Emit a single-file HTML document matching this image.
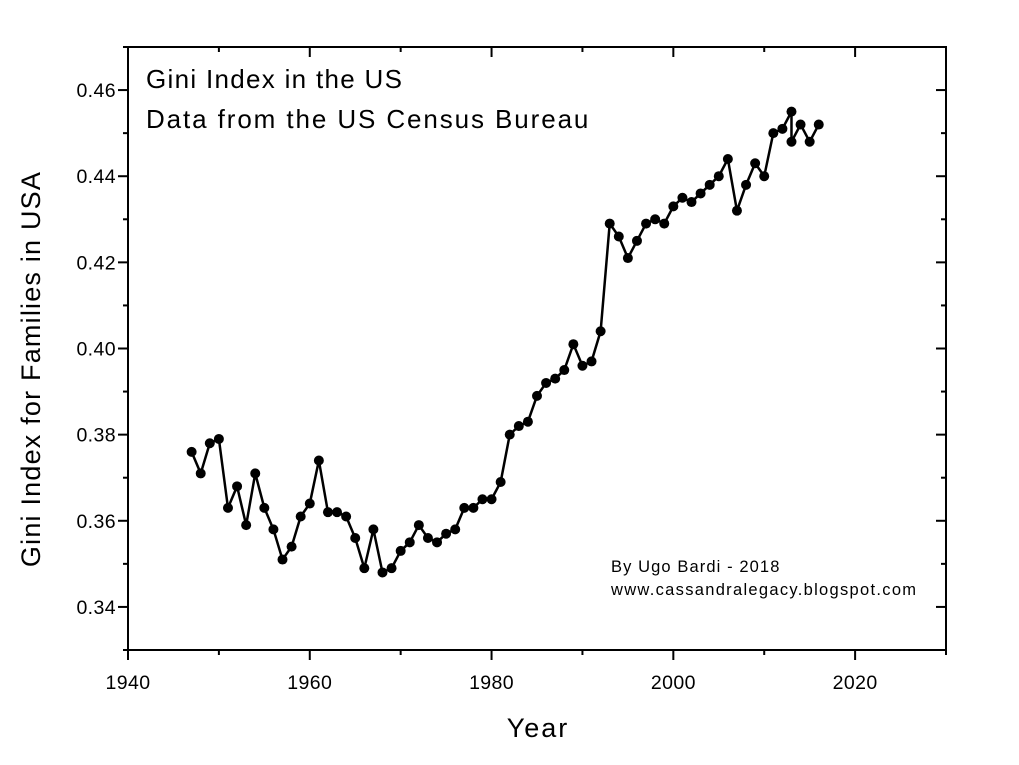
<!DOCTYPE html>
<html><head><meta charset="utf-8"><style>
body{margin:0;background:#fff;}
svg{display:block;font-family:"Liberation Sans",Arial,sans-serif;}
</style></head><body>
<svg id="chart" width="1019" height="765" viewBox="0 0 1019 765">
<rect width="1019" height="765" fill="#fff"/>
<g id="marks"></g>
<g id="axes"></g>
<text x="146" y="88" font-size="26" letter-spacing="1.3">Gini Index in the US</text>
<text x="146" y="128" font-size="26" letter-spacing="1.9">Data from the US Census Bureau</text>
<text x="611" y="572" font-size="16.5" letter-spacing="1.1">By Ugo Bardi - 2018</text>
<text x="611" y="595" font-size="16.5" letter-spacing="1.3">www.cassandralegacy.blogspot.com</text>
<text x="538" y="737" font-size="27" letter-spacing="2" text-anchor="middle">Year</text>
<text transform="translate(40,369) rotate(-90)" font-size="27" letter-spacing="1.2" text-anchor="middle">Gini Index for Families in USA</text>
</svg>
<script>
const years=[1947,1948,1949,1950,1951,1952,1953,1954,1955,1956,1957,1958,1959,1960,1961,1962,1963,1964,1965,1966,1967,1968,1969,1970,1971,1972,1973,1974,1975,1976,1977,1978,1979,1980,1981,1982,1983,1984,1985,1986,1987,1988,1989,1990,1991,1992,1993,1994,1995,1996,1997,1998,1999,2000,2001,2002,2003,2004,2005,2006,2007,2008,2009,2010,2011,2012,2013,2013,2014,2015,2016];
const gini=[0.376,0.371,0.378,0.379,0.363,0.368,0.359,0.371,0.363,0.358,0.351,0.354,0.361,0.364,0.374,0.362,0.362,0.361,0.356,0.349,0.358,0.348,0.349,0.353,0.355,0.359,0.356,0.355,0.357,0.358,0.363,0.363,0.365,0.365,0.369,0.380,0.382,0.383,0.389,0.392,0.393,0.395,0.401,0.396,0.397,0.404,0.429,0.426,0.421,0.425,0.429,0.430,0.429,0.433,0.435,0.434,0.436,0.438,0.440,0.444,0.432,0.438,0.443,0.440,0.450,0.451,0.455,0.448,0.452,0.448,0.452];
const xTicks=[1940,1960,1980,2000,2020];
const yTicks=[0.34,0.36,0.38,0.40,0.42,0.44,0.46];
const X0=128,X1=946,Y0=650,Y1=47;
const xs=v=>X0+(v-1940)/(2030-1940)*(X1-X0);
const ys=v=>Y0-(v-0.33)/(0.47-0.33)*(Y0-Y1);
const NS="http://www.w3.org/2000/svg";
function mk(t,a,p){const e=document.createElementNS(NS,t);for(const k in a)e.setAttribute(k,a[k]);p.appendChild(e);return e;}
const marks=document.getElementById('marks'),axes=document.getElementById('axes');
const line=mk('polyline',{points:years.map((y,i)=>xs(y)+','+ys(gini[i])).join(' '),fill:'none',stroke:'#000','stroke-width':2.5},marks);


years.forEach((y,i)=>{const c=mk('circle',{cx:xs(y),cy:ys(gini[i]),r:5,fill:'#000'},marks);

});
const box=mk('rect',{x:X0,y:Y1,width:X1-X0,height:Y0-Y1,fill:'none',stroke:'#000','stroke-width':2},axes);


for(let v=1940;v<=2030;v+=10){const x=xs(v),L=v%20==0?10:5;
mk('line',{x1:x,x2:x,y1:Y0,y2:Y0+L,stroke:'#000','stroke-width':2},axes);
mk('line',{x1:x,x2:x,y1:Y1,y2:Y1+L,stroke:'#000','stroke-width':2},axes);}
for(let k=0;k<=14;k++){const v=0.33+k*0.01,y=ys(v),L=k%2==1?10:5;
mk('line',{x1:X0-L,x2:X0,y1:y,y2:y,stroke:'#000','stroke-width':2},axes);
mk('line',{x1:X1-L,x2:X1,y1:y,y2:y,stroke:'#000','stroke-width':2},axes);}
xTicks.forEach(v=>{const t=mk('text',{x:xs(v),y:Y0+39,'font-size':19.5,'letter-spacing':0.4,'text-anchor':'middle'},axes);t.textContent=v;

});
yTicks.forEach(v=>{const t=mk('text',{x:X0-12,y:ys(v)+7,'font-size':19.5,'letter-spacing':0.4,'text-anchor':'end'},axes);t.textContent=v.toFixed(2);

});
</script>
</body></html>
